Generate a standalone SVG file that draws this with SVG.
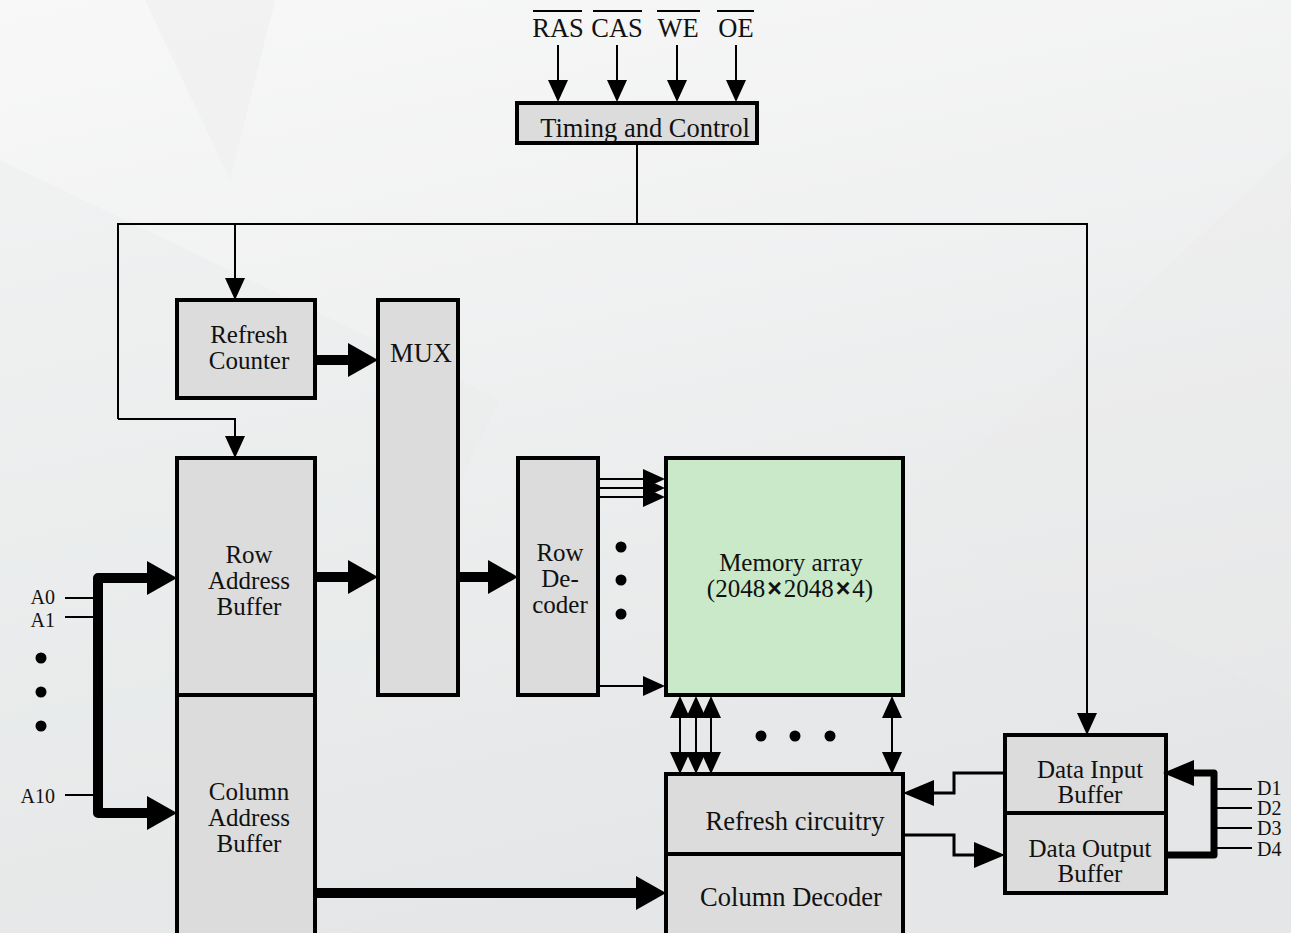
<svg xmlns="http://www.w3.org/2000/svg" width="1291" height="933" viewBox="0 0 1291 933">
<defs>
<linearGradient id="bg" x1="0" y1="0" x2="0.3" y2="1">
<stop offset="0" stop-color="#f8f8f8"/>
<stop offset="1" stop-color="#e4e6e7"/>
</linearGradient>
<marker id="ah" markerUnits="userSpaceOnUse" markerWidth="22" markerHeight="20" viewBox="0 0 22 20" refX="0" refY="10" orient="auto-start-reverse">
<path d="M0,0 L22,10 L0,20 z" fill="#000"/>
</marker>
<marker id="am" markerUnits="userSpaceOnUse" markerWidth="31" markerHeight="26" viewBox="0 0 31 26" refX="0" refY="13" orient="auto-start-reverse">
<path d="M0,0 L31,13 L0,26 z" fill="#000"/>
</marker>
<marker id="ab" markerUnits="userSpaceOnUse" markerWidth="30" markerHeight="34" viewBox="0 0 30 34" refX="0" refY="17" orient="auto-start-reverse">
<path d="M0,0 L30,17 L0,34 z" fill="#000"/>
</marker>
</defs>
<style>
.box{fill:#dcdcdc;stroke:#000;stroke-width:4}
.mem{fill:#c9e9c9;stroke:#000;stroke-width:4}
.t{font-family:"Liberation Serif","Times New Roman",serif;font-size:26.5px;fill:#111;text-anchor:middle}
.m{font-family:"Liberation Serif","Times New Roman",serif;font-size:25px;fill:#111;text-anchor:middle}
.l{font-family:"Liberation Serif","Times New Roman",serif;font-size:20px;fill:#111;text-anchor:end}
.d{font-family:"Liberation Serif","Times New Roman",serif;font-size:20px;fill:#111}
.thin{fill:none;stroke:#000;stroke-width:2}
.med{fill:none;stroke:#000;stroke-width:3}
.thick{fill:none;stroke:#000;stroke-width:10}
.bus{fill:none;stroke:#000;stroke-width:7}
</style>
<rect width="1291" height="933" fill="url(#bg)"/>
<polygon points="145,0 275,0 230,180" fill="#f0f0f0" opacity="0.7"/>
<polygon points="0,160 500,400 240,933 0,933" fill="#e8eaea" opacity="0.35"/>
<polygon points="1291,150 900,520 1291,700" fill="#eaeaea" opacity="0.35"/>

<g id="signals">
<text class="t" x="558" y="37">RAS</text>
<text class="t" x="617" y="37">CAS</text>
<text class="t" x="678" y="37">WE</text>
<text class="t" x="736" y="37">OE</text>
<line class="thin" x1="533" y1="11" x2="582" y2="11"/>
<line class="thin" x1="593" y1="11" x2="642" y2="11"/>
<line class="thin" x1="657" y1="11" x2="700" y2="11"/>
<line class="thin" x1="717" y1="11" x2="754" y2="11"/>
</g>

<g id="timing">
<rect class="box" x="517" y="103" width="240" height="40"/>
<text class="t" x="645" y="137">Timing and Control</text>
</g>

<g id="refresh-counter">
<rect class="box" x="177" y="300" width="138" height="98"/>
<text class="m" x="249" y="343">Refresh</text>
<text class="m" x="249" y="369">Counter</text>
</g>

<g id="mux">
<rect class="box" x="378" y="300" width="80" height="395"/>
<text class="t" x="421" y="362">MUX</text>
</g>

<g id="row-address-buffer">
<rect class="box" x="177" y="458" width="138" height="237"/>
<text class="m" x="249" y="563">Row</text>
<text class="m" x="249" y="589">Address</text>
<text class="m" x="249" y="615">Buffer</text>
</g>

<g id="column-address-buffer">
<rect class="box" x="177" y="695" width="138" height="245"/>
<text class="m" x="249" y="800">Column</text>
<text class="m" x="249" y="826">Address</text>
<text class="m" x="249" y="852">Buffer</text>
</g>

<g id="row-decoder">
<rect class="box" x="518" y="458" width="80" height="237"/>
<text class="m" x="560" y="561">Row</text>
<text class="m" x="560" y="587">De-</text>
<text class="m" x="560" y="613">coder</text>
</g>

<g id="memory-array">
<rect class="mem" x="666" y="458" width="237" height="237"/>
<text class="m" x="791" y="571">Memory array</text>
<text class="m" x="790" y="597">(2048<tspan dx="2" font-family="'Liberation Sans',Arial,sans-serif" font-weight="bold">×</tspan><tspan dx="2">2048</tspan><tspan dx="2" font-family="'Liberation Sans',Arial,sans-serif" font-weight="bold">×</tspan><tspan dx="2">4)</tspan></text>
</g>

<g id="refresh-circuitry">
<rect class="box" x="666" y="774" width="237" height="80"/>
<text class="t" x="795" y="830">Refresh circuitry</text>
</g>

<g id="column-decoder">
<rect class="box" x="666" y="854" width="237" height="86"/>
<text class="t" x="791" y="906">Column Decoder</text>
</g>

<g id="data-input-buffer">
<rect class="box" x="1005" y="735" width="161" height="78"/>
<text class="m" x="1090" y="778">Data Input</text>
<text class="m" x="1090" y="803">Buffer</text>
</g>

<g id="data-output-buffer">
<rect class="box" x="1005" y="813" width="161" height="80"/>
<text class="m" x="1090" y="857">Data Output</text>
<text class="m" x="1090" y="882">Buffer</text>
</g>

<g id="labels">
<text class="l" x="55" y="604">A0</text>
<text class="l" x="55" y="627">A1</text>
<text class="l" x="55" y="803">A10</text>
<text class="d" x="1257" y="795">D1</text>
<text class="d" x="1257" y="815">D2</text>
<text class="d" x="1257" y="835">D3</text>
<text class="d" x="1257" y="856">D4</text>
<circle cx="41" cy="658" r="5.5"/>
<circle cx="41" cy="692" r="5.5"/>
<circle cx="41" cy="726" r="5.5"/>
<circle cx="621" cy="547" r="5.5"/>
<circle cx="621" cy="580" r="5.5"/>
<circle cx="621" cy="614" r="5.5"/>
<circle cx="761" cy="736" r="5.5"/>
<circle cx="795" cy="736" r="5.5"/>
<circle cx="830" cy="736" r="5.5"/>
</g>

<g id="connectors">
<path class="thin" d="M558,45 V80" marker-end="url(#ah)"/>
<path class="thin" d="M617,45 V80" marker-end="url(#ah)"/>
<path class="thin" d="M677,45 V80" marker-end="url(#ah)"/>
<path class="thin" d="M736,45 V80" marker-end="url(#ah)"/>
<path class="thin" d="M637,143 V224"/>
<path class="thin" d="M118,419 V224 H1087 V713" marker-end="url(#ah)"/>
<path class="thin" d="M235,224 V278" marker-end="url(#ah)"/>
<path class="thin" d="M118,419 H235 V436" marker-end="url(#ah)"/>

<path class="thick" d="M315,360 H348" marker-end="url(#ab)"/>
<path class="thick" d="M315,577 H348" marker-end="url(#ab)"/>
<path class="thick" d="M458,577 H488" marker-end="url(#ab)"/>
<path class="thick" d="M315,893 H636" marker-end="url(#ab)"/>
<path class="thick" stroke-linejoin="round" d="M147,578 H98 V813 H147" marker-start="url(#ab)" marker-end="url(#ab)"/>

<path class="thin" d="M65,598 H93 M65,617 H93 M65,795 H93"/>

<path class="thin" d="M598,479 H643" marker-end="url(#ah)"/>
<path class="thin" d="M598,488 H643" marker-end="url(#ah)"/>
<path class="thin" d="M598,497 H643" marker-end="url(#ah)"/>
<path class="thin" d="M598,686 H643" marker-end="url(#ah)"/>

<path class="thin" d="M680,718 V752" marker-start="url(#ah)" marker-end="url(#ah)"/>
<path class="thin" d="M696,718 V752" marker-start="url(#ah)" marker-end="url(#ah)"/>
<path class="thin" d="M711,718 V752" marker-start="url(#ah)" marker-end="url(#ah)"/>
<path class="thin" d="M892,718 V752" marker-start="url(#ah)" marker-end="url(#ah)"/>

<path class="med" d="M1005,773 H954 V793 H934" marker-end="url(#am)"/>
<path class="med" d="M903,835 H954 V855 H974" marker-end="url(#am)"/>
<path class="bus" stroke-linejoin="round" d="M1166,855 H1214 V773 H1194" marker-end="url(#am)"/>
<path class="thin" d="M1214,789 H1252 M1214,808 H1252 M1214,828 H1252 M1214,848 H1252"/>
</g>
</svg>
